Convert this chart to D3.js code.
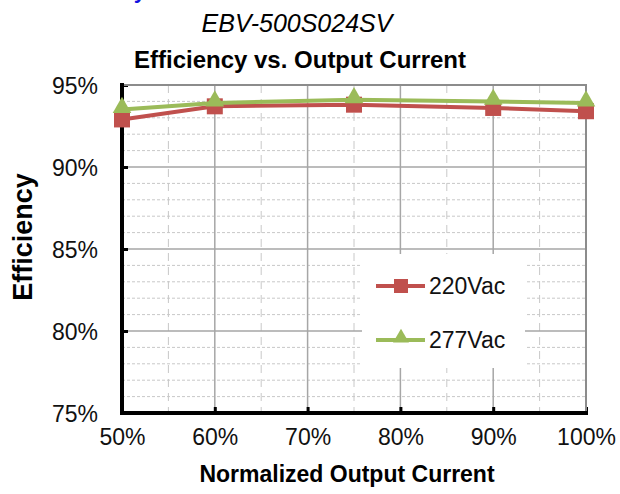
<!DOCTYPE html>
<html>
<head>
<meta charset="utf-8">
<script src="https://cdn.jsdelivr.net/npm/d3@7"></script>
<style>
  body { margin: 0; background: #fff; }
  svg { display: block; font-family: "Liberation Sans", Arial, sans-serif; }
</style>
</head>
<body>
<svg width="620" height="494"></svg>
<script>
// data
var loads = [50, 60, 75, 90, 100];
var eff220 = [92.9, 93.7, 93.8, 93.6, 93.4];
var eff277 = [93.5, 93.9, 94.1, 94.0, 93.9];
var seriesNames = ["220Vac", "277Vac"];
var xTicks = [50, 60, 70, 80, 90, 100];
var yTicks = [75, 80, 85, 90, 95];

var svg = d3.select("svg"),
    width = +svg.attr("width"),
    height = +svg.attr("height");

var pLeft = 122, pRight = 586, pTop = 85, pBottom = 413;

var x = d3.scaleLinear().domain([50, 100]).range([pLeft, pRight]);
var y = d3.scaleLinear().domain([75, 95]).range([pBottom, pTop]);

var red = "#c0504d", green = "#9bbb59";

// clipped blue text at very top
svg.append("text")
    .attr("x", 146).attr("y", -2)
    .attr("text-anchor", "end")
    .attr("font-size", 22).attr("font-weight", "bold")
    .attr("fill", "#1010e0")
    .text("Efficiency");

svg.append("text")
    .attr("x", 297).attr("y", 32)
    .attr("text-anchor", "middle")
    .attr("font-size", 25).attr("font-style", "italic")
    .text("EBV-500S024SV");

svg.append("text")
    .attr("x", 300).attr("y", 68)
    .attr("text-anchor", "middle")
    .attr("font-size", 24).attr("font-weight", "bold")
    .text("Efficiency vs. Output Current");

// minor grid
var grid = svg.append("g");
grid.selectAll("line.hminor")
    .data(d3.range(76, 95, 1).filter(function(d) { return d % 5 != 0; }))
    .enter().append("line")
    .attr("x1", pLeft).attr("x2", pRight)
    .attr("y1", function(d) { return y(d); })
    .attr("y2", function(d) { return y(d); })
    .attr("stroke", "#c8c8c8").attr("stroke-width", 1)
    .attr("stroke-dasharray", "3,2");

grid.selectAll("line.vminor")
    .data([55, 65, 75, 85, 95])
    .enter().append("line")
    .attr("y1", pTop).attr("y2", pBottom)
    .attr("x1", function(d) { return x(d); })
    .attr("x2", function(d) { return x(d); })
    .attr("stroke", "#c8c8c8").attr("stroke-width", 1)
    .attr("stroke-dasharray", "8,6");

// major grid
grid.selectAll("line.hmajor")
    .data(yTicks.slice(1))
    .enter().append("line")
    .attr("x1", pLeft).attr("x2", pRight)
    .attr("y1", function(d) { return y(d); })
    .attr("y2", function(d) { return y(d); })
    .attr("stroke", "#a6a6a6").attr("stroke-width", 1.5);

grid.selectAll("line.vmajor")
    .data(xTicks.slice(1))
    .enter().append("line")
    .attr("y1", pTop).attr("y2", pBottom)
    .attr("x1", function(d) { return x(d); })
    .attr("x2", function(d) { return x(d); })
    .attr("stroke", "#a6a6a6").attr("stroke-width", 1.5);

// legend background covering the grid
svg.append("rect")
    .attr("x", 362).attr("y", 254).attr("width", 163).attr("height", 114)
    .attr("fill", "#fff");

// axes
var xAxis = d3.axisBottom(x).tickValues(xTicks).tickSize(-6).tickPadding(16)
    .tickFormat(function(d) { return d + "%"; });
var yAxis = d3.axisLeft(y).tickValues(yTicks).tickSize(-6).tickPadding(24)
    .tickFormat(function(d) { return d + "%"; });

var gx = svg.append("g").attr("transform", "translate(0," + pBottom + ")").call(xAxis);
var gy = svg.append("g").attr("transform", "translate(" + pLeft + ",0)").call(yAxis);

[gx, gy].forEach(function(g) {
    g.select(".domain").remove();
    g.selectAll(".tick line").attr("stroke", "#000").attr("stroke-width", 3);
    g.selectAll(".tick text").attr("font-size", 23).attr("fill", "#111")
        .attr("font-family", "Liberation Sans, Arial, sans-serif");
});
gy.selectAll(".tick text").attr("dy", "0.36em");

// frame: top/right gray, left/bottom black
svg.append("path")
    .attr("d", "M" + pLeft + "," + pTop + "H" + pRight + "V" + pBottom)
    .attr("fill", "none").attr("stroke", "#8c8c8c").attr("stroke-width", 2);
svg.append("path")
    .attr("d", "M" + pLeft + "," + pTop + "V" + pBottom + "H" + pRight)
    .attr("fill", "none").attr("stroke", "#000").attr("stroke-width", 4)
    .attr("stroke-linecap", "square");

svg.append("text")
    .attr("transform", "translate(32,237) rotate(-90)")
    .attr("text-anchor", "middle")
    .attr("font-size", 27).attr("font-weight", "bold")
    .text("Efficiency");

svg.append("text")
    .attr("x", 347).attr("y", 482)
    .attr("text-anchor", "middle")
    .attr("font-size", 23).attr("font-weight", "bold")
    .text("Normalized Output Current");

// series
var line = d3.line()
    .x(function(d) { return x(d[0]); })
    .y(function(d) { return y(d[1]); });

var data220 = loads.map(function(d, i) { return [d, eff220[i]]; });
var data277 = loads.map(function(d, i) { return [d, eff277[i]]; });

svg.append("path").datum(data220)
    .attr("d", line).attr("fill", "none")
    .attr("stroke", red).attr("stroke-width", 4);
svg.selectAll("rect.m220").data(data220).enter().append("rect")
    .attr("x", function(d) { return x(d[0]) - 8; })
    .attr("y", function(d) { return y(d[1]) - 8; })
    .attr("width", 16).attr("height", 16)
    .attr("fill", red);

svg.append("path").datum(data277)
    .attr("d", line).attr("fill", "none")
    .attr("stroke", green).attr("stroke-width", 4);
var tri = d3.symbol().type(d3.symbolTriangle).size(150);
svg.selectAll("path.m277").data(data277).enter().append("path")
    .attr("d", tri)
    .attr("transform", function(d) { return "translate(" + x(d[0]) + "," + (y(d[1]) - 2) + ")"; })
    .attr("fill", green);

// legend
var legend = svg.append("g");
var ly = [286, 340];
legend.selectAll("line").data(seriesNames).enter().append("line")
    .attr("x1", 376).attr("x2", 425)
    .attr("y1", function(d, i) { return ly[i]; })
    .attr("y2", function(d, i) { return ly[i]; })
    .attr("stroke", function(d, i) { return i ? green : red; })
    .attr("stroke-width", 4);
legend.append("rect")
    .attr("x", 394).attr("y", ly[0] - 7).attr("width", 14).attr("height", 14)
    .attr("fill", red);
legend.append("path")
    .attr("d", d3.symbol().type(d3.symbolTriangle).size(110))
    .attr("transform", "translate(401," + (ly[1] - 2) + ")")
    .attr("fill", green);
legend.selectAll("text").data(seriesNames).enter().append("text")
    .attr("x", 429)
    .attr("y", function(d, i) { return ly[i]; })
    .attr("dy", "0.36em")
    .attr("font-size", 23).attr("fill", "#111")
    .text(function(d) { return d; });
</script>
</body>
</html>
